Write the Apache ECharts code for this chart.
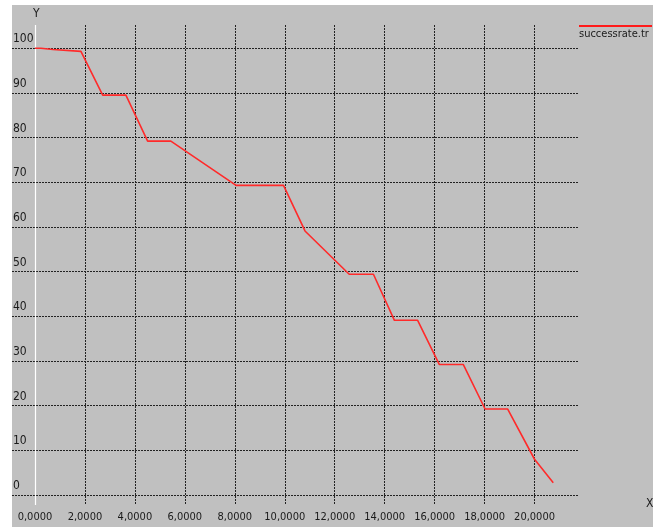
<!DOCTYPE html>
<html>
<head>
<meta charset="utf-8">
<script src="https://cdn.jsdelivr.net/npm/echarts@6/dist/echarts.min.js"></script>
<style>
  html, body { margin: 0; padding: 0; background: #fff; }
  #panel { position: absolute; left: 12px; top: 5px; width: 641px; height: 522px; background: #c0c0c0; }
  #chart { position: absolute; left: 0; top: 0; width: 656px; height: 527px; }
</style>
</head>
<body>
<div id="panel"></div>
<div id="chart"></div>
<script>
// success rate trace
const xValues = [0, 0.24, 0.25, 0.72, 0.73, 1.84, 2.71, 3.64, 4.51, 5.44, 8.05, 9.95,
  10.81, 12.58, 13.55, 14.39, 15.32, 16.19, 17.15, 18.02, 18.92, 20.0, 20.75];
const yValues = [100, 100, 99.7, 99.7, 99.3, 99.3, 89.5, 89.5, 79.2, 79.2, 69.3, 69.3,
  59.1, 49.4, 49.4, 39.1, 39.1, 29.2, 29.2, 19.25, 19.25, 8.0, 2.75];
const xTicks = [0, 2, 4, 6, 8, 10, 12, 14, 16, 18, 20];
const yTicks = [0, 10, 20, 30, 40, 50, 60, 70, 80, 90, 100];
const seriesName = 'successrate.tr';

const FONT = '"DejaVu Sans Condensed", "DejaVu Sans", sans-serif';
const gridStyle = { color: '#222', width: 1, type: [2, 1] };

const chart = echarts.init(document.getElementById('chart'), null, { renderer: 'canvas' });
chart.setOption({
  backgroundColor: 'transparent',
  animation: false,
  grid: { left: 12, right: 77, top: 25, bottom: 22, containLabel: false },
  xAxis: {
    type: 'value', min: -0.92, max: 21.78,
    axisLine: { show: false },
    axisTick: { show: false, customValues: xTicks },
    axisLabel: {
      customValues: xTicks, margin: 7, color: '#1a1a1a', fontFamily: FONT, fontSize: 11,
      formatter: v => v.toFixed(4).replace('.', ',')
    },
    splitLine: { show: true, lineStyle: gridStyle }
  },
  yAxis: {
    type: 'value', min: -2.24, max: 105.2,
    axisLine: { show: false },
    axisTick: { show: false, customValues: yTicks },
    axisLabel: {
      customValues: yTicks, margin: -1, align: 'left', verticalAlign: 'bottom',
      padding: [0, 0, 3, 0], color: '#1a1a1a', fontFamily: FONT, fontSize: 12
    },
    splitLine: { show: true, lineStyle: gridStyle }
  },
  graphic: [
    { type: 'text', left: 33, top: 8, style: { text: 'Y', fill: '#1a1a1a', font: '12px ' + FONT } },
    { type: 'text', left: 646, top: 498, style: { text: 'X', fill: '#1a1a1a', font: '12px ' + FONT } },
    { type: 'line', shape: { x1: 579, y1: 26, x2: 652, y2: 26 }, style: { stroke: '#ff1a1a', lineWidth: 2 } },
    { type: 'text', left: 579, top: 29, style: { text: seriesName, fill: '#1a1a1a', font: '11px ' + FONT } }
  ],
  series: [{
    name: seriesName,
    type: 'line',
    data: xValues.map((x, i) => [x, yValues[i]]),
    showSymbol: false,
    lineStyle: { color: '#ff2a2a', width: 1.6 },
    z: 5,
    markLine: {
      silent: true, symbol: 'none', label: { show: false },
      lineStyle: { color: '#ffffff', width: 1.2, type: 'solid' },
      data: [{ xAxis: 0 }]
    }
  }]
});
</script>
</body>
</html>
